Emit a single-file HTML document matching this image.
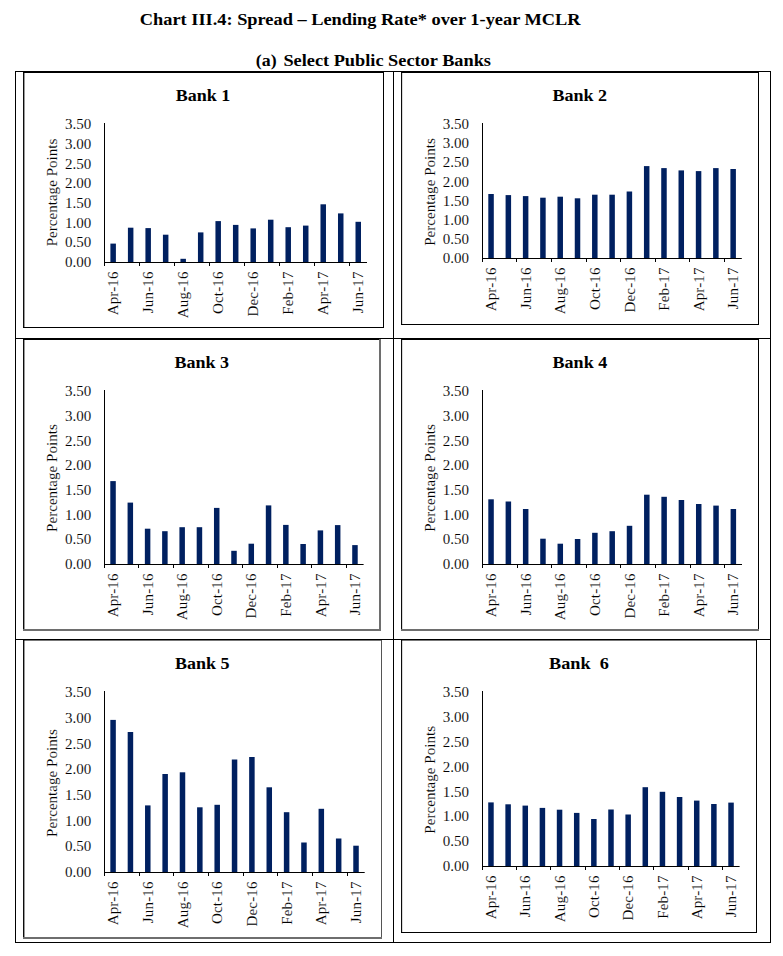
<!DOCTYPE html>
<html><head><meta charset="utf-8"><title>Chart III.4</title>
<style>
html,body{margin:0;padding:0;background:#fff;}
body{width:783px;height:956px;overflow:hidden;position:relative;font-family:"Liberation Serif",serif;}
svg{position:absolute;left:0;top:0;}
text{font-family:"Liberation Serif",serif;fill:#000;}
.t{font-weight:bold;font-size:17.2px;text-anchor:middle;}
.a{font-size:15px;stroke:#fff;stroke-width:0.1px;}
.ln{stroke:#000;stroke-width:1;fill:none;shape-rendering:crispEdges;}
.g{stroke:#7a7a7a;}
.b{fill:#002060;shape-rendering:crispEdges;}
</style></head><body>
<svg width="783" height="956" viewBox="0 0 783 956">
<text x="360.2" y="24.9" style="font-weight:bold;font-size:16.9px;text-anchor:middle" textLength="440.8" lengthAdjust="spacingAndGlyphs">Chart III.4: Spread – Lending Rate* over 1-year MCLR</text>
<text x="255.8" y="65.8" style="font-weight:bold;font-size:16.9px" textLength="20.8" lengthAdjust="spacingAndGlyphs">(a)</text>
<text x="283.4" y="65.8" style="font-weight:bold;font-size:16.9px" textLength="207.6" lengthAdjust="spacingAndGlyphs">Select Public Sector Banks</text>
<g shape-rendering="crispEdges">
<rect x="15" y="71" width="756" height="1" fill="#000"/>
<rect x="15" y="942" width="756" height="1" fill="#000"/>
<rect x="15" y="71" width="1" height="872" fill="#000"/>
<rect x="770" y="71" width="1" height="872" fill="#000"/>
<rect x="393" y="71" width="1" height="872" fill="#000"/>
<rect x="15" y="338" width="756" height="1" fill="#000"/>
<rect x="15" y="639" width="756" height="1" fill="#000"/>
<rect x="23" y="72" width="361" height="1" fill="#000"/>
<rect x="23.05" y="72" width="1.35" height="256" fill="#000" style="shape-rendering:auto"/>
<rect x="383" y="72" width="1" height="256" fill="#000"/>
<rect x="23" y="327" width="361" height="1" fill="#000"/>
<rect x="401" y="72" width="358" height="1" fill="#000"/>
<rect x="401.05" y="72" width="1.1" height="253" fill="#000" style="shape-rendering:auto"/>
<rect x="758" y="72" width="1" height="253" fill="#000"/>
<rect x="401" y="324" width="358" height="1" fill="#000"/>
<rect x="23" y="339" width="358" height="1" fill="#000"/>
<rect x="23.05" y="339" width="1.35" height="292" fill="#000" style="shape-rendering:auto"/>
<rect x="379" y="339" width="2" height="292" fill="#6e6e6e"/>
<rect x="23" y="629" width="358" height="2" fill="#6e6e6e"/>
<rect x="401" y="339" width="358" height="1" fill="#000"/>
<rect x="401.05" y="339" width="1.1" height="292" fill="#000" style="shape-rendering:auto"/>
<rect x="758" y="339" width="1" height="292" fill="#000"/>
<rect x="401" y="629" width="358" height="2" fill="#6e6e6e"/>
<rect x="23" y="640" width="359" height="1" fill="#777"/>
<rect x="23.05" y="640" width="1.35" height="299" fill="#000" style="shape-rendering:auto"/>
<rect x="381" y="640" width="1" height="299" fill="#555"/>
<rect x="23" y="937" width="359" height="2" fill="#6e6e6e"/>
<rect x="401" y="640" width="356" height="1" fill="#777"/>
<rect x="401.05" y="640" width="1.1" height="293" fill="#000" style="shape-rendering:auto"/>
<rect x="756" y="640" width="1" height="293" fill="#000"/>
<rect x="401" y="932" width="356" height="1" fill="#000"/>
</g>
<text class="t" x="203.0" y="100.89999999999999" textLength="54.6" lengthAdjust="spacingAndGlyphs">Bank 1</text>
<rect class="b" style="shape-rendering:auto" x="110.40" y="243.6" width="5.5" height="18.4"/>
<rect class="b" style="shape-rendering:auto" x="127.91" y="227.7" width="5.5" height="34.3"/>
<rect class="b" style="shape-rendering:auto" x="145.42" y="228.1" width="5.5" height="33.9"/>
<rect class="b" style="shape-rendering:auto" x="162.92" y="234.7" width="5.5" height="27.3"/>
<rect class="b" style="shape-rendering:auto" x="180.43" y="258.8" width="5.5" height="3.2"/>
<rect class="b" style="shape-rendering:auto" x="197.94" y="232.4" width="5.5" height="29.6"/>
<rect class="b" style="shape-rendering:auto" x="215.44" y="221.1" width="5.5" height="40.9"/>
<rect class="b" style="shape-rendering:auto" x="232.95" y="224.9" width="5.5" height="37.1"/>
<rect class="b" style="shape-rendering:auto" x="250.46" y="228.4" width="5.5" height="33.6"/>
<rect class="b" style="shape-rendering:auto" x="267.96" y="219.7" width="5.5" height="42.3"/>
<rect class="b" style="shape-rendering:auto" x="285.47" y="227.2" width="5.5" height="34.8"/>
<rect class="b" style="shape-rendering:auto" x="302.98" y="225.6" width="5.5" height="36.4"/>
<rect class="b" style="shape-rendering:auto" x="320.48" y="204.3" width="5.5" height="57.7"/>
<rect class="b" style="shape-rendering:auto" x="337.99" y="213.4" width="5.5" height="48.6"/>
<rect class="b" style="shape-rendering:auto" x="355.50" y="221.8" width="5.5" height="40.2"/>
<g shape-rendering="crispEdges"><rect x="104" y="123" width="1" height="140" fill="#000"/>
<rect x="104" y="262" width="263.0" height="1" fill="#000" style="shape-rendering:auto"/><rect x="104" y="262" width="1" height="4" fill="#000"/><rect x="139" y="262" width="1" height="4" fill="#000"/><rect x="174" y="262" width="1" height="4" fill="#000"/><rect x="209" y="262" width="1" height="4" fill="#000"/><rect x="244" y="262" width="1" height="4" fill="#000"/><rect x="279" y="262" width="1" height="4" fill="#000"/><rect x="314" y="262" width="1" height="4" fill="#000"/><rect x="349" y="262" width="1" height="4" fill="#000"/></g>
<text class="a" x="91.2" y="267.0" text-anchor="end">0.00</text>
<text class="a" x="91.2" y="247.3" text-anchor="end">0.50</text>
<text class="a" x="91.2" y="227.6" text-anchor="end">1.00</text>
<text class="a" x="91.2" y="207.9" text-anchor="end">1.50</text>
<text class="a" x="91.2" y="188.3" text-anchor="end">2.00</text>
<text class="a" x="91.2" y="168.6" text-anchor="end">2.50</text>
<text class="a" x="91.2" y="148.9" text-anchor="end">3.00</text>
<text class="a" x="91.2" y="129.2" text-anchor="end">3.50</text>
<text class="a" text-anchor="middle" textLength="107.7" lengthAdjust="spacing" transform="translate(56.6,192.5) rotate(-90)">Percentage Points</text>
<text class="a" text-anchor="end" style="letter-spacing:0.15px" transform="translate(118.3,271.4) rotate(-90)">Apr-16</text>
<text class="a" text-anchor="end" style="letter-spacing:0.15px" transform="translate(153.3,271.4) rotate(-90)">Jun-16</text>
<text class="a" text-anchor="end" style="letter-spacing:0.15px" transform="translate(188.3,271.4) rotate(-90)">Aug-16</text>
<text class="a" text-anchor="end" style="letter-spacing:0.15px" transform="translate(223.3,271.4) rotate(-90)">Oct-16</text>
<text class="a" text-anchor="end" style="letter-spacing:0.15px" transform="translate(258.3,271.4) rotate(-90)">Dec-16</text>
<text class="a" text-anchor="end" style="letter-spacing:0.15px" transform="translate(293.3,271.4) rotate(-90)">Feb-17</text>
<text class="a" text-anchor="end" style="letter-spacing:0.15px" transform="translate(328.3,271.4) rotate(-90)">Apr-17</text>
<text class="a" text-anchor="end" style="letter-spacing:0.15px" transform="translate(363.3,271.4) rotate(-90)">Jun-17</text>
<text class="t" x="579.7" y="100.7" textLength="54.6" lengthAdjust="spacingAndGlyphs">Bank 2</text>
<rect class="b" style="shape-rendering:auto" x="488.30" y="194.0" width="5.5" height="64.0"/>
<rect class="b" style="shape-rendering:auto" x="505.59" y="195.1" width="5.5" height="62.9"/>
<rect class="b" style="shape-rendering:auto" x="522.88" y="196.1" width="5.5" height="61.9"/>
<rect class="b" style="shape-rendering:auto" x="540.18" y="197.7" width="5.5" height="60.3"/>
<rect class="b" style="shape-rendering:auto" x="557.47" y="196.7" width="5.5" height="61.3"/>
<rect class="b" style="shape-rendering:auto" x="574.76" y="198.3" width="5.5" height="59.7"/>
<rect class="b" style="shape-rendering:auto" x="592.06" y="194.7" width="5.5" height="63.3"/>
<rect class="b" style="shape-rendering:auto" x="609.35" y="194.7" width="5.5" height="63.3"/>
<rect class="b" style="shape-rendering:auto" x="626.64" y="191.5" width="5.5" height="66.5"/>
<rect class="b" style="shape-rendering:auto" x="643.94" y="166.1" width="5.5" height="91.9"/>
<rect class="b" style="shape-rendering:auto" x="661.23" y="168.1" width="5.5" height="89.9"/>
<rect class="b" style="shape-rendering:auto" x="678.52" y="170.4" width="5.5" height="87.6"/>
<rect class="b" style="shape-rendering:auto" x="695.82" y="171.1" width="5.5" height="86.9"/>
<rect class="b" style="shape-rendering:auto" x="713.11" y="168.1" width="5.5" height="89.9"/>
<rect class="b" style="shape-rendering:auto" x="730.40" y="169.0" width="5.5" height="89.0"/>
<g shape-rendering="crispEdges"><rect x="482" y="123" width="1" height="136" fill="#000"/>
<rect x="482" y="258" width="259.8" height="1" fill="#000" style="shape-rendering:auto"/><rect x="482" y="258" width="1" height="4" fill="#000"/><rect x="516" y="258" width="1" height="4" fill="#000"/><rect x="551" y="258" width="1" height="4" fill="#000"/><rect x="586" y="258" width="1" height="4" fill="#000"/><rect x="620" y="258" width="1" height="4" fill="#000"/><rect x="655" y="258" width="1" height="4" fill="#000"/><rect x="689" y="258" width="1" height="4" fill="#000"/><rect x="724" y="258" width="1" height="4" fill="#000"/></g>
<text class="a" x="469.0" y="263.0" text-anchor="end">0.00</text>
<text class="a" x="469.0" y="243.9" text-anchor="end">0.50</text>
<text class="a" x="469.0" y="224.8" text-anchor="end">1.00</text>
<text class="a" x="469.0" y="205.7" text-anchor="end">1.50</text>
<text class="a" x="469.0" y="186.5" text-anchor="end">2.00</text>
<text class="a" x="469.0" y="167.4" text-anchor="end">2.50</text>
<text class="a" x="469.0" y="148.3" text-anchor="end">3.00</text>
<text class="a" x="469.0" y="129.2" text-anchor="end">3.50</text>
<text class="a" text-anchor="middle" textLength="107.7" lengthAdjust="spacing" transform="translate(434.6,192.0) rotate(-90)">Percentage Points</text>
<text class="a" text-anchor="end" style="letter-spacing:0.15px" transform="translate(496.1,267.4) rotate(-90)">Apr-16</text>
<text class="a" text-anchor="end" style="letter-spacing:0.15px" transform="translate(530.7,267.4) rotate(-90)">Jun-16</text>
<text class="a" text-anchor="end" style="letter-spacing:0.15px" transform="translate(565.3,267.4) rotate(-90)">Aug-16</text>
<text class="a" text-anchor="end" style="letter-spacing:0.15px" transform="translate(599.9,267.4) rotate(-90)">Oct-16</text>
<text class="a" text-anchor="end" style="letter-spacing:0.15px" transform="translate(634.5,267.4) rotate(-90)">Dec-16</text>
<text class="a" text-anchor="end" style="letter-spacing:0.15px" transform="translate(669.1,267.4) rotate(-90)">Feb-17</text>
<text class="a" text-anchor="end" style="letter-spacing:0.15px" transform="translate(703.7,267.4) rotate(-90)">Apr-17</text>
<text class="a" text-anchor="end" style="letter-spacing:0.15px" transform="translate(738.3,267.4) rotate(-90)">Jun-17</text>
<text class="t" x="201.7" y="368.0" textLength="54.6" lengthAdjust="spacingAndGlyphs">Bank 3</text>
<rect class="b" style="shape-rendering:auto" x="110.29" y="481.1" width="5.5" height="82.9"/>
<rect class="b" style="shape-rendering:auto" x="127.57" y="502.6" width="5.5" height="61.4"/>
<rect class="b" style="shape-rendering:auto" x="144.85" y="528.7" width="5.5" height="35.3"/>
<rect class="b" style="shape-rendering:auto" x="162.13" y="531.2" width="5.5" height="32.8"/>
<rect class="b" style="shape-rendering:auto" x="179.41" y="527.2" width="5.5" height="36.8"/>
<rect class="b" style="shape-rendering:auto" x="196.69" y="527.2" width="5.5" height="36.8"/>
<rect class="b" style="shape-rendering:auto" x="213.97" y="507.9" width="5.5" height="56.1"/>
<rect class="b" style="shape-rendering:auto" x="231.25" y="550.8" width="5.5" height="13.2"/>
<rect class="b" style="shape-rendering:auto" x="248.53" y="543.7" width="5.5" height="20.3"/>
<rect class="b" style="shape-rendering:auto" x="265.81" y="505.4" width="5.5" height="58.6"/>
<rect class="b" style="shape-rendering:auto" x="283.09" y="524.9" width="5.5" height="39.1"/>
<rect class="b" style="shape-rendering:auto" x="300.37" y="544.0" width="5.5" height="20.0"/>
<rect class="b" style="shape-rendering:auto" x="317.65" y="530.4" width="5.5" height="33.6"/>
<rect class="b" style="shape-rendering:auto" x="334.93" y="525.1" width="5.5" height="38.9"/>
<rect class="b" style="shape-rendering:auto" x="352.21" y="545.1" width="5.5" height="18.9"/>
<g shape-rendering="crispEdges"><rect x="104" y="390" width="1" height="175" fill="#000"/>
<rect x="104" y="564" width="259.6" height="1" fill="#000" style="shape-rendering:auto"/><rect x="104" y="564" width="1" height="4" fill="#000"/><rect x="138" y="564" width="1" height="4" fill="#000"/><rect x="173" y="564" width="1" height="4" fill="#000"/><rect x="208" y="564" width="1" height="4" fill="#000"/><rect x="242" y="564" width="1" height="4" fill="#000"/><rect x="277" y="564" width="1" height="4" fill="#000"/><rect x="311" y="564" width="1" height="4" fill="#000"/><rect x="346" y="564" width="1" height="4" fill="#000"/></g>
<text class="a" x="91.2" y="569.0" text-anchor="end">0.00</text>
<text class="a" x="91.2" y="544.3" text-anchor="end">0.50</text>
<text class="a" x="91.2" y="519.6" text-anchor="end">1.00</text>
<text class="a" x="91.2" y="494.9" text-anchor="end">1.50</text>
<text class="a" x="91.2" y="470.3" text-anchor="end">2.00</text>
<text class="a" x="91.2" y="445.6" text-anchor="end">2.50</text>
<text class="a" x="91.2" y="420.9" text-anchor="end">3.00</text>
<text class="a" x="91.2" y="396.2" text-anchor="end">3.50</text>
<text class="a" text-anchor="middle" textLength="107.7" lengthAdjust="spacing" transform="translate(56.6,478.1) rotate(-90)">Percentage Points</text>
<text class="a" text-anchor="end" style="letter-spacing:0.15px" transform="translate(118.1,573.4) rotate(-90)">Apr-16</text>
<text class="a" text-anchor="end" style="letter-spacing:0.15px" transform="translate(152.7,573.4) rotate(-90)">Jun-16</text>
<text class="a" text-anchor="end" style="letter-spacing:0.15px" transform="translate(187.3,573.4) rotate(-90)">Aug-16</text>
<text class="a" text-anchor="end" style="letter-spacing:0.15px" transform="translate(221.8,573.4) rotate(-90)">Oct-16</text>
<text class="a" text-anchor="end" style="letter-spacing:0.15px" transform="translate(256.4,573.4) rotate(-90)">Dec-16</text>
<text class="a" text-anchor="end" style="letter-spacing:0.15px" transform="translate(290.9,573.4) rotate(-90)">Feb-17</text>
<text class="a" text-anchor="end" style="letter-spacing:0.15px" transform="translate(325.5,573.4) rotate(-90)">Apr-17</text>
<text class="a" text-anchor="end" style="letter-spacing:0.15px" transform="translate(360.1,573.4) rotate(-90)">Jun-17</text>
<text class="t" x="579.9" y="368.2" textLength="54.6" lengthAdjust="spacingAndGlyphs">Bank 4</text>
<rect class="b" style="shape-rendering:auto" x="488.30" y="499.3" width="5.5" height="64.7"/>
<rect class="b" style="shape-rendering:auto" x="505.61" y="501.5" width="5.5" height="62.5"/>
<rect class="b" style="shape-rendering:auto" x="522.92" y="509.0" width="5.5" height="55.0"/>
<rect class="b" style="shape-rendering:auto" x="540.22" y="538.7" width="5.5" height="25.3"/>
<rect class="b" style="shape-rendering:auto" x="557.53" y="543.7" width="5.5" height="20.3"/>
<rect class="b" style="shape-rendering:auto" x="574.84" y="539.0" width="5.5" height="25.0"/>
<rect class="b" style="shape-rendering:auto" x="592.14" y="532.8" width="5.5" height="31.2"/>
<rect class="b" style="shape-rendering:auto" x="609.45" y="531.2" width="5.5" height="32.8"/>
<rect class="b" style="shape-rendering:auto" x="626.76" y="525.8" width="5.5" height="38.2"/>
<rect class="b" style="shape-rendering:auto" x="644.06" y="494.7" width="5.5" height="69.3"/>
<rect class="b" style="shape-rendering:auto" x="661.37" y="496.8" width="5.5" height="67.2"/>
<rect class="b" style="shape-rendering:auto" x="678.68" y="500.0" width="5.5" height="64.0"/>
<rect class="b" style="shape-rendering:auto" x="695.98" y="504.0" width="5.5" height="60.0"/>
<rect class="b" style="shape-rendering:auto" x="713.29" y="505.6" width="5.5" height="58.4"/>
<rect class="b" style="shape-rendering:auto" x="730.60" y="509.0" width="5.5" height="55.0"/>
<g shape-rendering="crispEdges"><rect x="482" y="390" width="1" height="175" fill="#000"/>
<rect x="482" y="564" width="260.0" height="1" fill="#000" style="shape-rendering:auto"/><rect x="482" y="564" width="1" height="4" fill="#000"/><rect x="517" y="564" width="1" height="4" fill="#000"/><rect x="551" y="564" width="1" height="4" fill="#000"/><rect x="586" y="564" width="1" height="4" fill="#000"/><rect x="620" y="564" width="1" height="4" fill="#000"/><rect x="655" y="564" width="1" height="4" fill="#000"/><rect x="690" y="564" width="1" height="4" fill="#000"/><rect x="724" y="564" width="1" height="4" fill="#000"/></g>
<text class="a" x="469.0" y="569.0" text-anchor="end">0.00</text>
<text class="a" x="469.0" y="544.3" text-anchor="end">0.50</text>
<text class="a" x="469.0" y="519.6" text-anchor="end">1.00</text>
<text class="a" x="469.0" y="494.9" text-anchor="end">1.50</text>
<text class="a" x="469.0" y="470.3" text-anchor="end">2.00</text>
<text class="a" x="469.0" y="445.6" text-anchor="end">2.50</text>
<text class="a" x="469.0" y="420.9" text-anchor="end">3.00</text>
<text class="a" x="469.0" y="396.2" text-anchor="end">3.50</text>
<text class="a" text-anchor="middle" textLength="107.7" lengthAdjust="spacing" transform="translate(434.6,478.0) rotate(-90)">Percentage Points</text>
<text class="a" text-anchor="end" style="letter-spacing:0.15px" transform="translate(496.2,573.4) rotate(-90)">Apr-16</text>
<text class="a" text-anchor="end" style="letter-spacing:0.15px" transform="translate(530.8,573.4) rotate(-90)">Jun-16</text>
<text class="a" text-anchor="end" style="letter-spacing:0.15px" transform="translate(565.4,573.4) rotate(-90)">Aug-16</text>
<text class="a" text-anchor="end" style="letter-spacing:0.15px" transform="translate(600.0,573.4) rotate(-90)">Oct-16</text>
<text class="a" text-anchor="end" style="letter-spacing:0.15px" transform="translate(634.6,573.4) rotate(-90)">Dec-16</text>
<text class="a" text-anchor="end" style="letter-spacing:0.15px" transform="translate(669.2,573.4) rotate(-90)">Feb-17</text>
<text class="a" text-anchor="end" style="letter-spacing:0.15px" transform="translate(703.8,573.4) rotate(-90)">Apr-17</text>
<text class="a" text-anchor="end" style="letter-spacing:0.15px" transform="translate(738.4,573.4) rotate(-90)">Jun-17</text>
<text class="t" x="202.2" y="669.0" textLength="54.6" lengthAdjust="spacingAndGlyphs">Bank 5</text>
<rect class="b" style="shape-rendering:auto" x="110.33" y="719.9" width="5.5" height="152.1"/>
<rect class="b" style="shape-rendering:auto" x="127.68" y="732.0" width="5.5" height="140.0"/>
<rect class="b" style="shape-rendering:auto" x="145.03" y="805.4" width="5.5" height="66.6"/>
<rect class="b" style="shape-rendering:auto" x="162.39" y="774.0" width="5.5" height="98.0"/>
<rect class="b" style="shape-rendering:auto" x="179.74" y="772.3" width="5.5" height="99.7"/>
<rect class="b" style="shape-rendering:auto" x="197.09" y="807.3" width="5.5" height="64.7"/>
<rect class="b" style="shape-rendering:auto" x="214.45" y="804.8" width="5.5" height="67.2"/>
<rect class="b" style="shape-rendering:auto" x="231.80" y="759.5" width="5.5" height="112.5"/>
<rect class="b" style="shape-rendering:auto" x="249.15" y="757.0" width="5.5" height="115.0"/>
<rect class="b" style="shape-rendering:auto" x="266.51" y="787.3" width="5.5" height="84.7"/>
<rect class="b" style="shape-rendering:auto" x="283.86" y="812.2" width="5.5" height="59.8"/>
<rect class="b" style="shape-rendering:auto" x="301.21" y="842.5" width="5.5" height="29.5"/>
<rect class="b" style="shape-rendering:auto" x="318.57" y="808.8" width="5.5" height="63.2"/>
<rect class="b" style="shape-rendering:auto" x="335.92" y="838.5" width="5.5" height="33.5"/>
<rect class="b" style="shape-rendering:auto" x="353.27" y="845.7" width="5.5" height="26.3"/>
<g shape-rendering="crispEdges"><rect x="104" y="691" width="1" height="182" fill="#000"/>
<rect x="104" y="872" width="260.7" height="1" fill="#000" style="shape-rendering:auto"/><rect x="104" y="872" width="1" height="4" fill="#000"/><rect x="139" y="872" width="1" height="4" fill="#000"/><rect x="173" y="872" width="1" height="4" fill="#000"/><rect x="208" y="872" width="1" height="4" fill="#000"/><rect x="243" y="872" width="1" height="4" fill="#000"/><rect x="277" y="872" width="1" height="4" fill="#000"/><rect x="312" y="872" width="1" height="4" fill="#000"/><rect x="347" y="872" width="1" height="4" fill="#000"/></g>
<text class="a" x="91.2" y="877.0" text-anchor="end">0.00</text>
<text class="a" x="91.2" y="851.3" text-anchor="end">0.50</text>
<text class="a" x="91.2" y="825.6" text-anchor="end">1.00</text>
<text class="a" x="91.2" y="799.9" text-anchor="end">1.50</text>
<text class="a" x="91.2" y="774.3" text-anchor="end">2.00</text>
<text class="a" x="91.2" y="748.6" text-anchor="end">2.50</text>
<text class="a" x="91.2" y="722.9" text-anchor="end">3.00</text>
<text class="a" x="91.2" y="697.2" text-anchor="end">3.50</text>
<text class="a" text-anchor="middle" textLength="107.7" lengthAdjust="spacing" transform="translate(56.6,783.1) rotate(-90)">Percentage Points</text>
<text class="a" text-anchor="end" style="letter-spacing:0.15px" transform="translate(118.2,881.4) rotate(-90)">Apr-16</text>
<text class="a" text-anchor="end" style="letter-spacing:0.15px" transform="translate(152.9,881.4) rotate(-90)">Jun-16</text>
<text class="a" text-anchor="end" style="letter-spacing:0.15px" transform="translate(187.6,881.4) rotate(-90)">Aug-16</text>
<text class="a" text-anchor="end" style="letter-spacing:0.15px" transform="translate(222.3,881.4) rotate(-90)">Oct-16</text>
<text class="a" text-anchor="end" style="letter-spacing:0.15px" transform="translate(257.0,881.4) rotate(-90)">Dec-16</text>
<text class="a" text-anchor="end" style="letter-spacing:0.15px" transform="translate(291.7,881.4) rotate(-90)">Feb-17</text>
<text class="a" text-anchor="end" style="letter-spacing:0.15px" transform="translate(326.4,881.4) rotate(-90)">Apr-17</text>
<text class="a" text-anchor="end" style="letter-spacing:0.15px" transform="translate(361.1,881.4) rotate(-90)">Jun-17</text>
<text class="t" x="578.9" y="669.0" textLength="59.8" lengthAdjust="spacingAndGlyphs">Bank  6</text>
<rect class="b" style="shape-rendering:auto" x="488.22" y="802.4" width="5.5" height="63.6"/>
<rect class="b" style="shape-rendering:auto" x="505.37" y="804.3" width="5.5" height="61.7"/>
<rect class="b" style="shape-rendering:auto" x="522.52" y="805.6" width="5.5" height="60.4"/>
<rect class="b" style="shape-rendering:auto" x="539.66" y="807.9" width="5.5" height="58.1"/>
<rect class="b" style="shape-rendering:auto" x="556.81" y="809.7" width="5.5" height="56.3"/>
<rect class="b" style="shape-rendering:auto" x="573.96" y="812.9" width="5.5" height="53.1"/>
<rect class="b" style="shape-rendering:auto" x="591.10" y="819.0" width="5.5" height="47.0"/>
<rect class="b" style="shape-rendering:auto" x="608.25" y="809.5" width="5.5" height="56.5"/>
<rect class="b" style="shape-rendering:auto" x="625.40" y="814.5" width="5.5" height="51.5"/>
<rect class="b" style="shape-rendering:auto" x="642.54" y="787.2" width="5.5" height="78.8"/>
<rect class="b" style="shape-rendering:auto" x="659.69" y="791.8" width="5.5" height="74.2"/>
<rect class="b" style="shape-rendering:auto" x="676.84" y="797.0" width="5.5" height="69.0"/>
<rect class="b" style="shape-rendering:auto" x="693.98" y="800.6" width="5.5" height="65.4"/>
<rect class="b" style="shape-rendering:auto" x="711.13" y="804.0" width="5.5" height="62.0"/>
<rect class="b" style="shape-rendering:auto" x="728.28" y="802.6" width="5.5" height="63.4"/>
<g shape-rendering="crispEdges"><rect x="482" y="691" width="1" height="176" fill="#000"/>
<rect x="482" y="866" width="257.6" height="1" fill="#000" style="shape-rendering:auto"/><rect x="482" y="866" width="1" height="4" fill="#000"/><rect x="516" y="866" width="1" height="4" fill="#000"/><rect x="550" y="866" width="1" height="4" fill="#000"/><rect x="585" y="866" width="1" height="4" fill="#000"/><rect x="619" y="866" width="1" height="4" fill="#000"/><rect x="653" y="866" width="1" height="4" fill="#000"/><rect x="688" y="866" width="1" height="4" fill="#000"/><rect x="722" y="866" width="1" height="4" fill="#000"/></g>
<text class="a" x="469.0" y="871.0" text-anchor="end">0.00</text>
<text class="a" x="469.0" y="846.2" text-anchor="end">0.50</text>
<text class="a" x="469.0" y="821.3" text-anchor="end">1.00</text>
<text class="a" x="469.0" y="796.5" text-anchor="end">1.50</text>
<text class="a" x="469.0" y="771.7" text-anchor="end">2.00</text>
<text class="a" x="469.0" y="746.9" text-anchor="end">2.50</text>
<text class="a" x="469.0" y="722.0" text-anchor="end">3.00</text>
<text class="a" x="469.0" y="697.2" text-anchor="end">3.50</text>
<text class="a" text-anchor="middle" textLength="107.7" lengthAdjust="spacing" transform="translate(434.6,779.8) rotate(-90)">Percentage Points</text>
<text class="a" text-anchor="end" style="letter-spacing:0.15px" transform="translate(496.1,875.4) rotate(-90)">Apr-16</text>
<text class="a" text-anchor="end" style="letter-spacing:0.15px" transform="translate(530.4,875.4) rotate(-90)">Jun-16</text>
<text class="a" text-anchor="end" style="letter-spacing:0.15px" transform="translate(564.7,875.4) rotate(-90)">Aug-16</text>
<text class="a" text-anchor="end" style="letter-spacing:0.15px" transform="translate(599.0,875.4) rotate(-90)">Oct-16</text>
<text class="a" text-anchor="end" style="letter-spacing:0.15px" transform="translate(633.2,875.4) rotate(-90)">Dec-16</text>
<text class="a" text-anchor="end" style="letter-spacing:0.15px" transform="translate(667.5,875.4) rotate(-90)">Feb-17</text>
<text class="a" text-anchor="end" style="letter-spacing:0.15px" transform="translate(701.8,875.4) rotate(-90)">Apr-17</text>
<text class="a" text-anchor="end" style="letter-spacing:0.15px" transform="translate(736.1,875.4) rotate(-90)">Jun-17</text>
</svg>
</body></html>
